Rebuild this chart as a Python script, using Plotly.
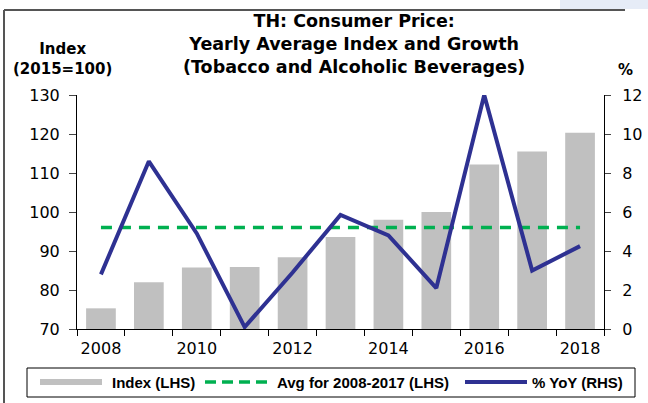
import plotly.graph_objects as go

years = [2008, 2009, 2010, 2011, 2012, 2013, 2014, 2015, 2016, 2017, 2018]
index_lhs = [75.3, 82.0, 85.8, 85.9, 88.4, 93.6, 98.0, 100.0, 112.2, 115.5, 120.3]
avg_lhs = [96.0] * len(years)
yoy_rhs = [2.8, 8.6, 4.9, 0.1, 2.9, 5.85, 4.8, 2.1, 12.0, 3.0, 4.25]
title_lines = ["TH: Consumer Price:", "Yearly Average Index and Growth", "(Tobacco and Alcoholic Beverages)"]
legend_names = ["Index (LHS)", "Avg for 2008-2017 (LHS)", "% YoY (RHS)"]

# chart styling
font_family = "DejaVu Sans, Arial, sans-serif"
legend_font = "Liberation Sans, Arial, sans-serif"
bar_color = "#C0C0C0"
avg_color = "#00B050"
yoy_color = "#2E3192"

W, H = 648, 403
L, R, T, B = 77, 44, 95, 74
pw = W - L - R
ph = H - T - B


# pixel position -> paper coordinates
def px_x(x):
    return (x - L) / pw


def px_y(y):
    return (H - B - y) / ph


fig = go.Figure()

# bars drawn from the 70 baseline of the left axis
fig.add_trace(go.Bar(
    x=years, y=[v - 70 for v in index_lhs], base=70, name=legend_names[0],
    marker=dict(color=bar_color, line=dict(width=0)), width=0.62,
))

fig.add_trace(go.Scatter(
    x=years, y=avg_lhs, name=legend_names[1], mode="lines",
    line=dict(color=avg_color, width=3.5, dash="11px,8px"),
))

fig.add_trace(go.Scatter(
    x=years, y=yoy_rhs, name=legend_names[2], mode="lines", yaxis="y2",
    line=dict(color=yoy_color, width=4),
))

annotations = [
    dict(text="<b>" + "<br>".join(title_lines) + "</b>", x=px_x(354), y=px_y(44),
         xanchor="center", yanchor="middle", font=dict(size=17.5)),
    dict(text="<b>Index<br>(2015=100)</b>", x=px_x(62), y=px_y(59), xanchor="center", yanchor="middle",
         font=dict(size=15)),
    dict(text="<b>%</b>", x=px_x(625), y=px_y(70), xanchor="center", yanchor="middle",
         font=dict(size=15)),
]

# hand-built legend (wide swatches, framed box)
legend_y = 382
for name, tx in zip(legend_names, [110, 275, 530]):
    annotations.append(dict(text="<b>%s</b>" % name, x=px_x(tx), y=px_y(legend_y), xanchor="left",
                            yanchor="middle", font=dict(size=15, family=legend_font)))
for a in annotations:
    a.update(xref="paper", yref="paper", showarrow=False)

shapes = [
    # top-right faint blue glow of the original slide
    dict(type="rect", x0=px_x(560), x1=px_x(648), y0=px_y(0), y1=px_y(9), fillcolor="#E6ECF7",
         line=dict(width=0), layer="below"),
    # outer frame
    dict(type="line", x0=px_x(4), x1=px_x(4), y0=px_y(10), y1=px_y(403), line=dict(color="#555555", width=2)),
    dict(type="line", x0=px_x(4), x1=px_x(625), y0=px_y(10), y1=px_y(10), line=dict(color="#555555", width=2)),
    # legend box and swatches
    dict(type="rect", x0=px_x(27), x1=px_x(635), y0=px_y(368), y1=px_y(397), line=dict(color="#000000", width=1)),
    dict(type="rect", x0=px_x(40), x1=px_x(102), y0=px_y(379), y1=px_y(385), fillcolor=bar_color,
         line=dict(width=0)),
    dict(type="line", x0=px_x(205), x1=px_x(270), y0=px_y(legend_y), y1=px_y(legend_y),
         line=dict(color=avg_color, width=3.5, dash="11px,6px")),
    dict(type="line", x0=px_x(465), x1=px_x(527), y0=px_y(legend_y), y1=px_y(legend_y),
         line=dict(color=yoy_color, width=4)),
]
for s in shapes:
    s.update(xref="paper", yref="paper")

fig.update_layout(
    width=W, height=H,
    font=dict(family=font_family, color="#000000", size=15),
    paper_bgcolor="white", plot_bgcolor="white",
    margin=dict(t=T, b=B, l=L, r=R, autoexpand=False),
    showlegend=False,
    xaxis=dict(
        range=[2007.5, 2018.5], tickmode="array",
        tickvals=[2008, 2010, 2012, 2014, 2016, 2018],
        ticks="", showgrid=False, zeroline=False, ticklabelstandoff=5,
        showline=True, linecolor="#000000", linewidth=1,
        minor=dict(ticks="outside", tick0=2007.5, dtick=1, ticklen=6, tickcolor="#000000", showgrid=False),
        tickfont=dict(size=16),
    ),
    yaxis=dict(
        range=[70, 130], dtick=10, ticks="outside", ticklen=7, ticklabelstandoff=6,
        showgrid=False, zeroline=False, showline=True,
        linecolor="#000000", linewidth=1, tickfont=dict(size=16),
    ),
    yaxis2=dict(
        range=[0, 12], dtick=2, overlaying="y", side="right",
        ticks="outside", ticklen=6, ticklabelstandoff=8, showgrid=False, zeroline=False,
        showline=True, linecolor="#000000", linewidth=1, tickfont=dict(size=16),
    ),
    annotations=annotations,
    shapes=shapes,
)

# drop the default 8px page margin so the figure sits at the window origin
fig.write_html("out.html", config={"displayModeBar": False},
               post_script="document.body.style.margin='0';")
